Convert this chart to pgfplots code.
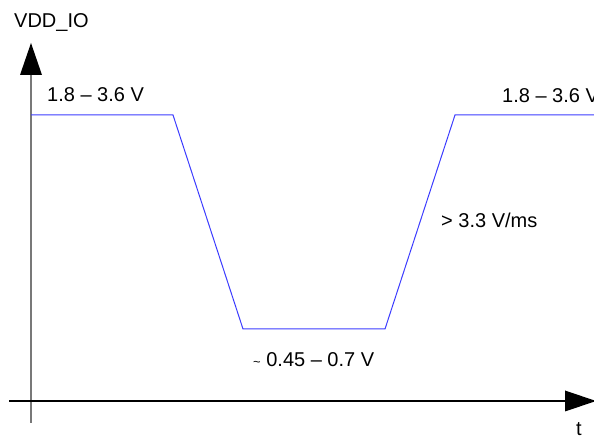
\documentclass[border=0pt]{standalone}
\usepackage{fontspec}
\setmainfont{Liberation Sans}
\usepackage{pgfplots}
\usepackage{pgfplotstable}
\pgfplotsset{compat=1.18}

\definecolor{wave}{RGB}{60,60,255}
\definecolor{yaxisgray}{RGB}{120,120,120}
\tikzset{lbl/.style={font=\fontsize{20}{23}\selectfont, anchor=base west, inner sep=0pt}}

% waveform corners, in picture pixels (y counted from the bottom)
\pgfplotstableread{
x   y
31  323
173 323
243 109
385 109
455 323
600 323
}\wavedata

\begin{document}
\begin{tikzpicture}
\clip (0,0) rectangle (594pt,438pt);
\begin{axis}[
  at={(0,0)}, anchor=south west,
  scale only axis,
  width=594pt, height=438pt,
  xmin=0, xmax=594, ymin=0, ymax=438,
  hide axis,
  clip=false,
]
% axes
\draw[yaxisgray, line width=2pt] (31,15) -- (31,370);
\fill[black] (31,395) -- (20,363) -- (42,363) -- cycle;
\draw[black, line width=1.6pt] (9,37) -- (570,37);
\fill[black] (596,37) -- (565,47.5) -- (565,26.5) -- cycle;

\addplot[wave, line width=1pt] table[x=x, y=y] {\wavedata};

\node[lbl] at (14,410.5) {VDD\_IO};
\node[lbl] at (47,336) {1.8 – 3.6 V};
\node[lbl] at (502,335) {1.8 – 3.6 V};
\node[lbl] at (441,210) {> 3.3 V/ms};
\node[lbl] at (253,71) {{\fontsize{13}{13}\selectfont\textasciitilde} 0.45 – 0.7 V};
\node[lbl] at (576,2) {t};
\end{axis}
\end{tikzpicture}
\end{document}
